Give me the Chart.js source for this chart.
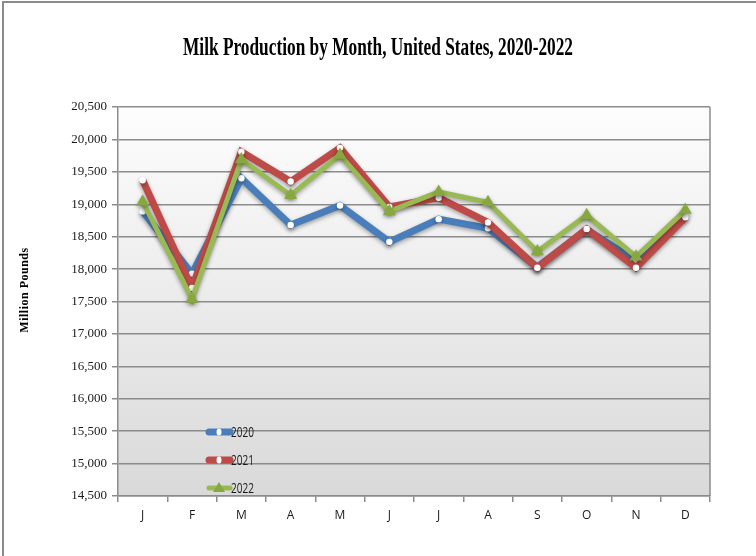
<!DOCTYPE html>
<html>
<head>
<meta charset="utf-8">
<script src="https://cdn.jsdelivr.net/npm/chart.js@4"></script>
<style>
    html, body { margin: 0; padding: 0; background: #ffffff; }
    #wrap { width: 756px; height: 556px; position: relative; }
</style>
</head>
<body>
<div id="wrap"><canvas id="milkChart" width="756" height="556"></canvas></div>
<script>
// =============================================
// DATA (million pounds)
// =============================================

const months = ["J", "F", "M", "A", "M", "J", "J", "A", "S", "O", "N", "D"];
const prod2020 = [18890, 17930, 19400, 18680, 18980, 18420, 18770, 18630, 18030, 18610, 18120, 18830];
const prod2021 = [19370, 17710, 19810, 19350, 19870, 18960, 19100, 18720, 18020, 18620, 18020, 18800];
const prod2022 = [19040, 17540, 19690, 19140, 19760, 18890, 19190, 19030, 18270, 18830, 18190, 18910];
const seriesNames = ["2020", "2021", "2022"];

const yMin = 14500;
const yMax = 20500;
const yStep = 500;

const titleText = "Milk Production by Month, United States, 2020-2022";
const yTitleText = "Million Pounds";

const BLUE = "#4a7ebb";
const RED = "#be4b48";
const GREEN = "#98b954";
const GREEN_MARK = "#86a83f";

// =============================================
// PLUGINS: frame, background, title, legend, shadows
// =============================================

// draw text squeezed horizontally (the original uses condensed faces)
function squeezed(ctx, text, x, y, sx) {
    ctx.save();
    ctx.translate(x, y);
    ctx.scale(sx, 1);
    ctx.fillText(text, 0, 0);
    ctx.restore();
}

const decorPlugin = {
    id: "decor",
    beforeDraw(chart) {
        const { ctx, chartArea: a } = chart;
        ctx.save();
        // outer frame (left + top visible)
        ctx.strokeStyle = "#8a8a8a";
        ctx.lineWidth = 2;
        ctx.strokeRect(3, 2, 800, 600);
        // plot area gradient
        const g = ctx.createLinearGradient(0, a.top, 0, a.bottom);
        g.addColorStop(0, "#fdfdfd");
        g.addColorStop(1, "#d9d9d9");
        ctx.fillStyle = g;
        ctx.fillRect(a.left, a.top, a.right - a.left, a.bottom - a.top);
        ctx.restore();
    },
    afterDraw(chart) {
        const { ctx, chartArea: a } = chart;
        ctx.save();
        // right border of plot area
        ctx.strokeStyle = "#8c8c8c";
        ctx.lineWidth = 1.5;
        ctx.beginPath();
        ctx.moveTo(a.right, a.top);
        ctx.lineTo(a.right, a.bottom);
        ctx.stroke();

        // title
        ctx.fillStyle = "#000000";
        ctx.font = "bold 25px 'Liberation Serif'";
        ctx.textAlign = "center";
        ctx.textBaseline = "middle";
        const tw = ctx.measureText(titleText).width;
        squeezed(ctx, titleText, 378, 49, 390 / tw);

        // y title
        ctx.save();
        ctx.translate(25, 290);
        ctx.rotate(-Math.PI / 2);
        ctx.font = "bold 12px 'Liberation Serif'";
        ctx.letterSpacing = "0.5px";
        ctx.fillText(yTitleText, 0, 0);
        ctx.restore();

        // legend inside plot area
        const rows = [432, 460, 488];
        chart.data.datasets.forEach((ds, i) => {
            const y = rows[i];
            ctx.save();
            ctx.strokeStyle = ds.borderColor;
            ctx.lineWidth = ds.borderWidth;
            ctx.lineCap = "round";
            ctx.beginPath();
            ctx.moveTo(209, y);
            ctx.lineTo(230, y);
            ctx.stroke();
            if (ds.pointStyle === "triangle") {
                ctx.fillStyle = ds.pointBackgroundColor;
                ctx.beginPath();
                ctx.moveTo(219, y - 6);
                ctx.lineTo(225, y + 4);
                ctx.lineTo(213, y + 4);
                ctx.closePath();
                ctx.fill();
            } else {
                ctx.fillStyle = "#ffffff";
                ctx.beginPath();
                ctx.ellipse(219, y, 2.5, 3.5, 0, 0, Math.PI * 2);
                ctx.fill();
            }
            ctx.restore();
            ctx.fillStyle = "#1a1a1a";
            ctx.font = "14px 'Open Sans'";
            ctx.textAlign = "left";
            squeezed(ctx, seriesNames[i], 231, y + 1, 0.72);
        });
        ctx.restore();
    },
    beforeDatasetDraw(chart) {
        const ctx = chart.ctx;
        ctx.save();
        ctx.shadowColor = "rgba(0,0,0,0.35)";
        ctx.shadowBlur = 4;
        ctx.shadowOffsetY = 2;
    },
    afterDatasetDraw(chart) {
        chart.ctx.restore();
    }
};

// =============================================
// CHART
// =============================================

const ctx = document.getElementById("milkChart");

new Chart(ctx, {
    type: "line",
    data: {
        labels: months,
        datasets: [
            {
                label: seriesNames[0],
                data: prod2020,
                borderColor: BLUE,
                borderWidth: 7,
                pointStyle: "circle",
                pointRadius: 3.2,
                pointBorderWidth: 0,
                pointBackgroundColor: "#ffffff",
                tension: 0,
                order: 3
            },
            {
                label: seriesNames[1],
                data: prod2021,
                borderColor: RED,
                borderWidth: 7,
                pointStyle: "circle",
                pointRadius: 3.2,
                pointBorderWidth: 0,
                pointBackgroundColor: "#ffffff",
                tension: 0,
                order: 2
            },
            {
                label: seriesNames[2],
                data: prod2022,
                borderColor: GREEN,
                borderWidth: 5,
                pointStyle: "triangle",
                pointRadius: 7.5,
                pointBorderWidth: 0,
                pointBackgroundColor: GREEN_MARK,
                tension: 0,
                order: 1
            }
        ]
    },
    options: {
        responsive: false,
        animation: false,
        layout: {
            padding: { left: 0, top: 107, right: 46, bottom: 0 }
        },
        plugins: {
            legend: { display: false },
            title: { display: false },
            tooltip: { enabled: false }
        },
        scales: {
            x: {
                offset: true,
                afterFit: s => { s.height = 60; },
                grid: {
                    offset: true,
                    drawOnChartArea: false,
                    color: "#8c8c8c",
                    lineWidth: 1.5,
                    tickLength: 6
                },
                border: { color: "#8c8c8c", width: 1.5 },
                ticks: {
                    color: "#1a1a1a",
                    font: { family: "'Open Sans'", size: 12 },
                    padding: 6,
                    maxRotation: 0,
                    autoSkip: false
                }
            },
            y: {
                min: yMin,
                max: yMax,
                afterFit: s => { s.width = 118; },
                grid: {
                    color: "#8c8c8c",
                    lineWidth: 1.5,
                    tickLength: 6
                },
                border: { color: "#8c8c8c", width: 1.5 },
                ticks: {
                    stepSize: yStep,
                    color: "#1a1a1a",
                    font: { family: "'Liberation Serif'", size: 13 },
                    padding: 5,
                    callback: v => v.toLocaleString("en-US")
                }
            }
        }
    },
    plugins: [decorPlugin]
});
</script>
</body>
</html>
